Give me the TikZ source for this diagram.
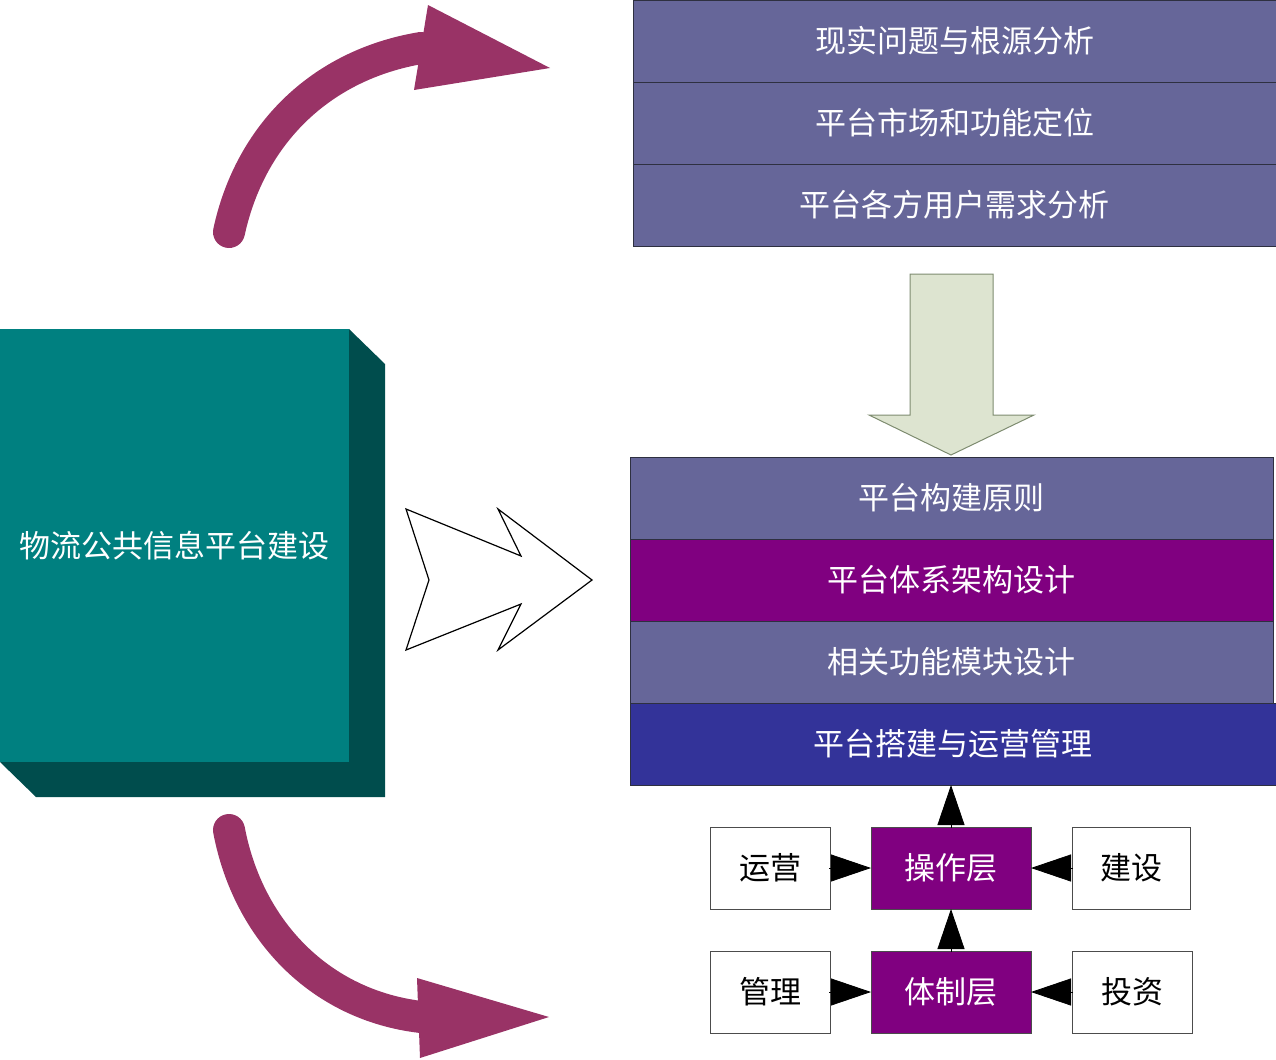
\documentclass[tikz,border=0pt]{standalone}
\usepackage{fontspec}
\setmainfont{Noto Sans CJK SC}
\usetikzlibrary{arrows.meta}
\definecolor{slate}{HTML}{666699}
\definecolor{purp}{HTML}{800080}
\definecolor{navy}{HTML}{333399}
\definecolor{teal}{HTML}{008080}
\definecolor{darkteal}{HTML}{004D4D}
\definecolor{plum}{HTML}{993366}
\definecolor{pale}{HTML}{DDE4D0}
\definecolor{paleedge}{HTML}{7E8C70}
\definecolor{rowline}{HTML}{2E3040}
\begin{document}
\begin{tikzpicture}[x=0.5pt,y=-0.5pt,
  txt/.style={font=\fontsize{15.5}{18}\selectfont},
  row/.style={txt, draw=rowline, line width=0.5pt, inner sep=0pt, outer sep=0pt,
    minimum width=321.5pt, minimum height=41pt, anchor=north west, text=white},
  small/.style={txt, draw=black!70, line width=0.5pt, inner sep=0pt, outer sep=0pt,
    minimum height=41pt, anchor=north west, fill=white, text=black},
  layer/.style={small, fill=purp, text=white, minimum width=80pt},
  tri/.style={-{Triangle[length=20pt,width=13.5pt]}, line width=0.4pt, black, shorten <=-0.5pt},
  curvy/.style={plum, line width=16pt, line cap=round}
]
\useasboundingbox (0,0) rectangle (1276,1060);

% top stack
\node[row, fill=slate] (t1) at (633,0) {现实问题与根源分析};
\node[row, fill=slate] (t2) at (633,82) {平台市场和功能定位};
\node[row, fill=slate] (t3) at (633,164) {平台各方用户需求分析};

% green down arrow
\draw[fill=pale, draw=paleedge, line width=0.5pt]
  (910,274) -- (993,274) -- (993,415) -- (1034,415) -- (951,455) -- (869,415) -- (910,415) -- cycle;

% bottom stack
\node[row, fill=slate] (b1) at (630,457) {平台构建原则};
\node[row, fill=purp] (b2) at (630,539) {平台体系架构设计};
\node[row, fill=slate] (b3) at (630,621) {相关功能模块设计};
\node[row, fill=navy, minimum width=323pt] (b4) at (630,703) {平台搭建与运营管理};

% 3D box
\fill[darkteal] (349,329) -- (385,364) -- (385,797) -- (36,797) -- (0,762) -- (349,762) -- cycle;
\node[txt, fill=teal, text=white, inner sep=0pt, outer sep=0pt, minimum width=174.5pt,
  minimum height=216.5pt, anchor=north west] (box) at (0,329) {物流公共信息平台建设};

% hollow chevron arrow
\draw[fill=white, draw=black, line width=0.6pt]
  (406,509) -- (521,556) -- (498,509) -- (592,580) -- (498,650) -- (521,604) -- (406,650) -- (429,580) -- cycle;

% curved arrows
\draw[curvy] (229,232) .. controls (250,135) and (320,65) .. (421,48);
\fill[plum] (428,5) -- (550,68) -- (414,90) -- cycle;
\draw[curvy] (229,830) .. controls (248,930) and (320,1005) .. (421,1017);
\fill[plum] (417,978) -- (549,1017) -- (420,1058) -- cycle;

% small boxes
\node[small, minimum width=60pt] (yy) at (710,827) {运营};
\node[layer] (cz) at (871,827) {操作层};
\node[small, minimum width=59pt] (js) at (1072,827) {建设};
\node[small, minimum width=60pt] (gl) at (710,951) {管理};
\node[layer] (tz) at (871,951) {体制层};
\node[small, minimum width=60pt] (tzi) at (1072,951) {投资};

% arrows
\draw[tri] (yy.east) -- (cz.west);
\draw[tri] (js.west) -- (cz.east);
\draw[tri] (gl.east) -- (tz.west);
\draw[tri] (tzi.west) -- (tz.east);
\draw[tri] (tz.north) -- (cz.south);
\draw[tri] (cz.north) -- (cz.north |- b4.south);
\end{tikzpicture}
\end{document}
